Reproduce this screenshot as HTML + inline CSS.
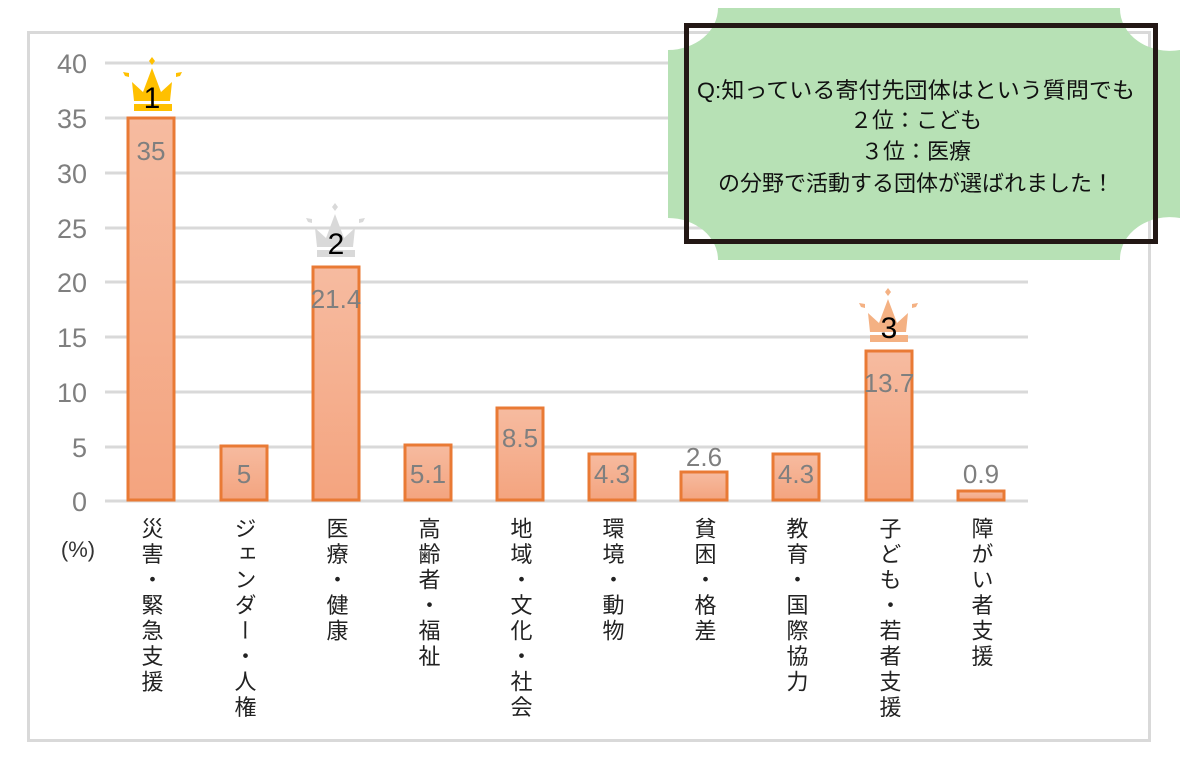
<!DOCTYPE html>
<html><head><meta charset="utf-8"><style>
body{margin:0;background:#fff;width:1188px;height:763px;overflow:hidden}
svg{display:block}
.t{font-family:"Liberation Sans","Noto Sans CJK JP",sans-serif}
</style></head><body>
<svg width="1188" height="763" viewBox="0 0 1188 763" class="t">
<defs><linearGradient id="g" x1="0" y1="0" x2="0" y2="1"><stop offset="0" stop-color="#f6bba0"/><stop offset="1" stop-color="#f4a47f"/></linearGradient></defs>
<rect x="28.5" y="32.5" width="1121" height="708" fill="#fff" stroke="#d9d9d9" stroke-width="3"/>
<g stroke="#d9d9d9" stroke-width="3">
<line x1="105" x2="1028" y1="63" y2="63"/><line x1="105" x2="1028" y1="118" y2="118"/>
<line x1="105" x2="1028" y1="173" y2="173"/><line x1="105" x2="1028" y1="228" y2="228"/>
<line x1="105" x2="1028" y1="282" y2="282"/><line x1="105" x2="1028" y1="337" y2="337"/>
<line x1="105" x2="1028" y1="392" y2="392"/><line x1="105" x2="1028" y1="447" y2="447"/>
<line x1="105" x2="1028" y1="501" y2="501"/>
</g>
<g fill="#7f7f7f" font-size="27" text-anchor="end">
<text x="87" y="73">40</text><text x="87" y="128">35</text><text x="87" y="183">30</text>
<text x="87" y="238">25</text><text x="87" y="292">20</text><text x="87" y="347">15</text>
<text x="87" y="402">10</text><text x="87" y="457">5</text><text x="87" y="511">0</text>
</g>
<text x="78" y="557" font-size="22" fill="#333" text-anchor="middle">(%)</text>
<g fill="url(#g)" stroke="#e97a35" stroke-width="3">
<rect x="128" y="118" width="46" height="382"/>
<rect x="221" y="446" width="46" height="54"/>
<rect x="313" y="267" width="46" height="233"/>
<rect x="405" y="445" width="46" height="55"/>
<rect x="497" y="408" width="46" height="92"/>
<rect x="589" y="454" width="46" height="46"/>
<rect x="681" y="472" width="46" height="28"/>
<rect x="773" y="454" width="46" height="46"/>
<rect x="866" y="351" width="46" height="149"/>
<rect x="958" y="491" width="46" height="9"/>
</g>
<g fill="#7f7f7f" font-size="26" text-anchor="middle">
<text x="151" y="160">35</text><text x="244" y="483">5</text><text x="336" y="308">21.4</text>
<text x="428" y="483">5.1</text><text x="520" y="447">8.5</text><text x="612" y="483">4.3</text>
<text x="704" y="466">2.6</text><text x="796" y="483">4.3</text><text x="889" y="392">13.7</text>
<text x="981" y="483">0.9</text>
</g>
<g fill="#ffc000">
<path d="M134,101 L132,82 L143,92 L152,68 L161,92 L172,82 L170,101 Z"/>
<rect x="134" y="104" width="38" height="7"/><path d="M152,57 l3,4 l-3,4 l-3,-4z"/>
<path d="M123,72 l6,1 l0,4 l-4,-1z"/><path d="M182,72 l-6,1 l0,4 l4,-1z"/>
</g>
<text x="152" y="108" font-size="30" text-anchor="middle" fill="#000">1</text>
<g fill="#d9d9d9">
<path d="M317,247 L315,228 L326,238 L335,214 L344,238 L355,228 L353,247 Z"/>
<rect x="317" y="250" width="38" height="7"/><path d="M335,203 l3,4 l-3,4 l-3,-4z"/>
<path d="M306,218 l6,1 l0,4 l-4,-1z"/><path d="M365,218 l-6,1 l0,4 l4,-1z"/>
</g>
<text x="336" y="254" font-size="30" text-anchor="middle" fill="#000">2</text>
<g fill="#f4b183">
<path d="M870,332 L868,313 L879,323 L888,299 L897,323 L908,313 L906,332 Z"/>
<rect x="870" y="335" width="38" height="7"/><path d="M888,288 l3,4 l-3,4 l-3,-4z"/>
<path d="M859,303 l6,1 l0,4 l-4,-1z"/><path d="M918,303 l-6,1 l0,4 l4,-1z"/>
</g>
<text x="889" y="338" font-size="30" text-anchor="middle" fill="#000">3</text>
<g font-size="22" fill="#222" style="writing-mode:vertical-rl;letter-spacing:3.5px">
<text x="151" y="517">災害・緊急支援</text>
<text x="244" y="517">ジェンダー・人権</text>
<text x="336" y="517">医療・健康</text>
<text x="428" y="517">高齢者・福祉</text>
<text x="520" y="517">地域・文化・社会</text>
<text x="612" y="517">環境・動物</text>
<text x="704" y="517">貧困・格差</text>
<text x="796" y="517">教育・国際協力</text>
<text x="889" y="517">子ども・若者支援</text>
<text x="981" y="517">障がい者支援</text>
</g>
<path fill="#b7e1b5" d="M718,8 L1120,8 A50,42 0 0 0 1180,50 L1180,218 A50,42 0 0 0 1120,260 L718,260 A50,42 0 0 0 668,218 L668,50 A50,42 0 0 0 718,8 Z"/>
<rect x="686.5" y="25.5" width="469" height="216" fill="none" stroke="#231815" stroke-width="5"/>
<g font-size="22" fill="#111" text-anchor="middle">
<text x="916" y="98" textLength="438" lengthAdjust="spacingAndGlyphs">Q:知っている寄付先団体はという質問でも</text>
<text x="916" y="128">２位：こども</text>
<text x="916" y="159">３位：医療</text>
<text x="916" y="191">の分野で活動する団体が選ばれました！</text>
</g>
</svg>
</body></html>
